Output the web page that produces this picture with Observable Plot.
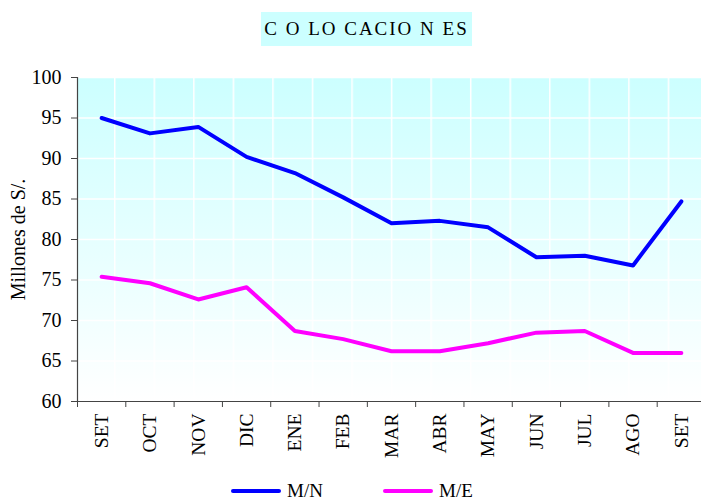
<!DOCTYPE html>
<html><head><meta charset="utf-8">
<script src="https://cdn.jsdelivr.net/npm/d3@7"></script>
<script src="https://cdn.jsdelivr.net/npm/@observablehq/plot@0.6"></script>
<style>
body{margin:0;background:#fff;font-family:"Liberation Serif","Times New Roman",serif;color:#000}
#wrap{position:relative;width:701px;height:501px;overflow:hidden}
#head{position:relative;height:60px}
#title{position:absolute;left:261px;top:12px;width:211px;height:34px;background:#ccffff;
  font-size:19px;line-height:34px;text-align:center;letter-spacing:2px;white-space:nowrap}
#chart svg{display:block}
#chart svg text{font-family:"Liberation Serif","Times New Roman",serif}
#legend{position:absolute;left:0;top:481px;width:701px;height:20px}
.item{position:absolute;top:0;height:20px;display:flex;align-items:center;font-size:19px;line-height:20px}
.item span.sw{display:inline-block;width:50px;height:4px;border-radius:2px;margin-right:6px}
</style></head><body>
<div id="wrap">
  <div id="head"><div id="title">C O LO CACIO N ES</div></div>
  <div id="chart"></div>
  <div id="legend"></div>
</div>
<script>
const months = ["SET","OCT","NOV","DIC","ENE","FEB","MAR","ABR","MAY","JUN","JUL","AGO","SET"];
const seriesNames = ["M/N","M/E"];
const mnValues = [95.0, 93.1, 93.9, 90.2, 88.2, 85.2, 82.0, 82.3, 81.5, 77.8, 78.0, 76.8, 84.7];
const meValues = [75.4, 74.6, 72.6, 74.1, 68.7, 67.7, 66.2, 66.2, 67.2, 68.5, 68.7, 66.0, 66.0];
const yTicks = [60, 65, 70, 75, 80, 85, 90, 95, 100];
const colors = ["#0000ff", "#ff00ff"];
const yLabel = "Millones de S/.";
const serif = "'Liberation Serif','Times New Roman',serif";

const data = months.flatMap((m, i) => [
  {pos: i + 0.5, month: m, serie: seriesNames[0], value: mnValues[i]},
  {pos: i + 0.5, month: m, serie: seriesNames[1], value: meValues[i]}
]);
const boundaries = d3.range(months.length + 1);
const centers = months.map((m, i) => i + 0.5);

const plot = Plot.plot({
  width: 701,
  height: 420,
  marginLeft: 77,
  marginRight: 0,
  marginTop: 17,
  marginBottom: 79,
  style: {fontFamily: serif, fontSize: "19px", color: "#000", background: "transparent", overflow: "visible"},
  x: {type: "linear", domain: [0, months.length], range: [77, 705], axis: null},
  y: {domain: [60, 100], axis: null},
  color: {domain: seriesNames, range: colors},
  marks: [
    Plot.frame({fill: "url(#bgGrad)", stroke: null}),
    Plot.frame({fill: "url(#vGrid)", stroke: null}),
    Plot.gridY(yTicks, {stroke: "#ffffff", strokeOpacity: 1, strokeWidth: 1.5}),
    Plot.line(data, {x: "pos", y: "value", z: "serie", stroke: "serie", strokeWidth: 4, strokeLinejoin: "round", strokeLinecap: "round"}),
    Plot.ruleX([0], {stroke: "#444", strokeWidth: 1.2}),
    Plot.ruleY([60], {stroke: "#444", strokeWidth: 1.2}),
    Plot.axisY({ticks: yTicks, tickSize: 6, tickPadding: 10, stroke: "#444", fill: "#000", fontSize: 20, fontFamily: serif, fontVariant: "normal", label: null}),
    Plot.axisX({ticks: boundaries, tickSize: 6, tickFormat: () => "", stroke: "#444", label: null}),
    Plot.axisX({ticks: centers, tickSize: 0, tickPadding: 12, tickRotate: -90, tickFormat: d => months[Math.floor(d)], fill: "#000", fontSize: 19.5, fontFamily: serif, label: null}),
    Plot.text([yLabel], {text: d => d, frameAnchor: "left", textAnchor: "middle", lineAnchor: "middle", dx: -59, rotate: -90, fontSize: 20, fontFamily: serif, fill: "#000"})
  ]
});

const svg = d3.select(plot);
const defs = svg.insert("defs", ":first-child");
const grad = defs.append("linearGradient").attr("id", "bgGrad").attr("x1", 0).attr("y1", 0).attr("x2", 0).attr("y2", 1);
grad.append("stop").attr("offset", "0%").attr("stop-color", "#ccffff");
grad.append("stop").attr("offset", "100%").attr("stop-color", "#ffffff");
const pat = defs.append("pattern").attr("id", "vGrid").attr("patternUnits", "userSpaceOnUse")
  .attr("x", 113.5).attr("y", 0).attr("width", 39.55).attr("height", 420);
pat.append("rect").attr("x", 0).attr("y", 0).attr("width", 1.5).attr("height", 420).attr("fill", "#ffffff");

document.getElementById("chart").appendChild(plot);

const legend = document.getElementById("legend");
const lefts = [231, 383];
seriesNames.forEach((s, i) => {
  const it = document.createElement("div");
  it.className = "item";
  it.style.left = lefts[i] + "px";
  it.innerHTML = `<span class="sw" style="background:${colors[i]}"></span>${s}`;
  legend.appendChild(it);
});
</script>
</body></html>
